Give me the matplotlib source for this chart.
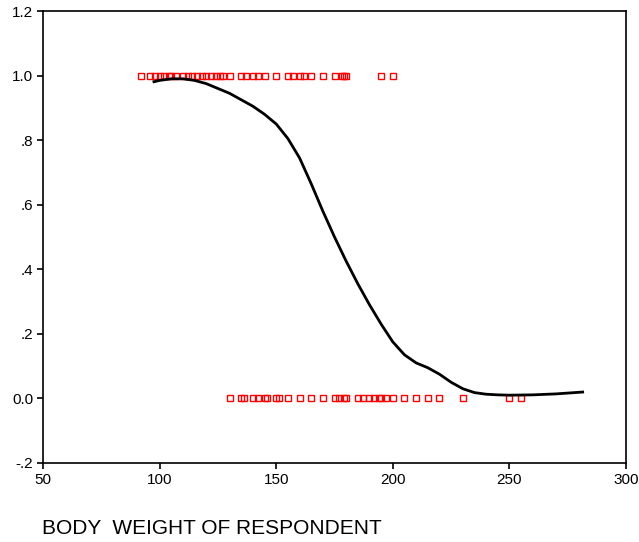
import matplotlib
matplotlib.use("Agg")
import matplotlib.pyplot as plt

plt.rcParams['font.family'] = ['Liberation Sans', 'DejaVu Sans']

weight_y1 = [92, 96, 98, 100, 102, 104, 105, 107, 110, 112, 114, 116, 118, 120, 122, 124, 126, 127,
             130, 135, 137, 140, 142, 145, 150, 155, 157, 160, 162, 165,
             170, 175, 178, 179, 180, 195, 200]
weight_y0 = [130, 135, 136, 140, 142, 145, 146, 150, 151, 155, 160, 165,
             170, 175, 177, 179, 180, 185, 187, 190, 192, 194, 195, 197, 200,
             205, 210, 215, 220, 230, 250, 255]

curve_x = [97, 100, 105, 110, 115, 120, 125, 130, 135, 140, 145, 150, 155, 160, 165, 170,
           175, 180, 185, 190, 195, 200, 205, 210, 215, 220, 225, 230, 235, 240, 245, 250,
           260, 270, 282]
curve_y = [0.98, 0.985, 0.99, 0.99, 0.985, 0.975, 0.96, 0.945, 0.925, 0.905, 0.88, 0.85, 0.805,
           0.745, 0.665, 0.58, 0.50, 0.425, 0.355, 0.29, 0.23, 0.175, 0.135, 0.11, 0.095, 0.075,
           0.05, 0.03, 0.018, 0.013, 0.011, 0.01, 0.011, 0.014, 0.02]

yticks = [-0.2, 0.0, 0.2, 0.4, 0.6, 0.8, 1.0, 1.2]
ytick_labels = ["-.2", "0.0", ".2", ".4", ".6", ".8", "1.0", "1.2"]
xticks = [50, 100, 150, 200, 250, 300]
xtick_labels = ["50", "100", "150", "200", "250", "300"]

fig = plt.figure(figsize=(6.39, 5.42), dpi=100)
ax = fig.add_axes([0.0673, 0.1458, 0.9124, 0.8339])

ax.plot(weight_y1, [1.0] * len(weight_y1), linestyle='none', marker='s', markersize=5,
        markerfacecolor='none', markeredgecolor='#ff0000', markeredgewidth=1.0)
ax.plot(weight_y0, [0.0] * len(weight_y0), linestyle='none', marker='s', markersize=5,
        markerfacecolor='none', markeredgecolor='#ff0000', markeredgewidth=1.0)
ax.plot(curve_x, curve_y, color='black', linewidth=2.0, solid_capstyle='butt')

ax.set_xlim(50, 300)
ax.set_ylim(-0.2, 1.2)
ax.set_xticks(xticks)
ax.set_xticklabels(xtick_labels)
ax.set_yticks(yticks)
ax.set_yticklabels(ytick_labels)
ax.tick_params(direction='out', length=4, width=1.2, labelsize=11, pad=3)
for s in ax.spines.values():
    s.set_linewidth(1.2)

fig.text(42 / 639, 1 - 529 / 542, "BODY  WEIGHT OF RESPONDENT", fontsize=15,
         ha='left', va='center')

fig.savefig("out.png", dpi=100)
